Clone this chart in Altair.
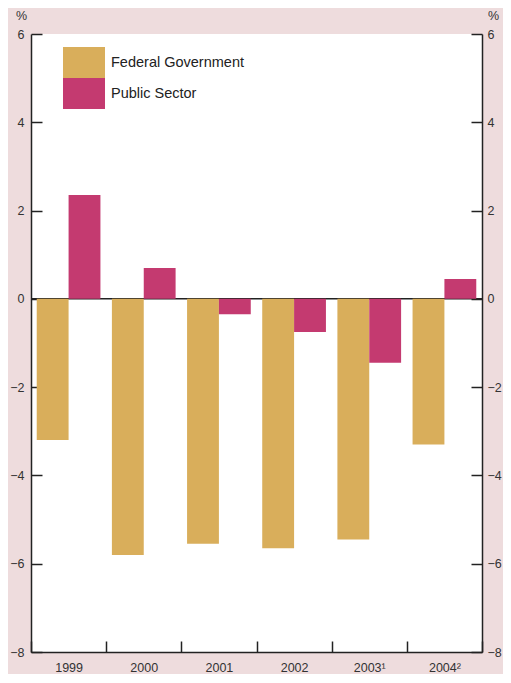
import altair as alt
import pandas as pd

years = ["1999", "2000", "2001", "2002", "2003¹", "2004²"]
series = ["Federal Government", "Public Sector"]
federal = [-3.2, -5.8, -5.55, -5.65, -5.45, -3.3]
public = [2.35, 0.7, -0.35, -0.75, -1.45, 0.45]
y_ticks = [-8, -6, -4, -2, 0, 2, 4, 6]
zero_line = [0]

rows = []
for i, yr in enumerate(years):
    rows.append({"year": yr, "series": series[0], "value": federal[i]})
    rows.append({"year": yr, "series": series[1], "value": public[i]})
df = pd.DataFrame(rows)

W, H = 451, 618
FONT = "Liberation Sans"
ink = "#222222"
txt = "#333333"
FS = 12.5

yscale = alt.Scale(domain=[-8, 6], nice=False, zero=False)

left_axis = alt.Axis(
    orient="right", offset=-W, values=y_ticks, tickSize=11, tickWidth=1.5,
    tickColor=ink, domainColor=ink, domainWidth=1.5, grid=False,
    labelPadding=-18, labelAlign="right", labelFontSize=FS, labelColor=txt,
    labelFont=FONT, title="%", titleAngle=0, titleX=-10, titleY=-19,
    titleAlign="center", titleBaseline="middle", titleFontSize=FS,
    titleFontWeight="normal", titleFont=FONT, titleColor=txt,
)
right_axis = alt.Axis(
    orient="left", offset=-W, values=y_ticks, tickSize=11, tickWidth=1.5,
    tickColor=ink, domainColor=ink, domainWidth=1.5, grid=False,
    labelPadding=-16, labelAlign="left", labelFontSize=FS, labelColor=txt,
    labelFont=FONT, title="%", titleAngle=0, titleX=11, titleY=-19,
    titleAlign="center", titleBaseline="middle", titleFontSize=FS,
    titleFontWeight="normal", titleFont=FONT, titleColor=txt,
)
x_axis = alt.Axis(
    orient="top", offset=-H, tickBand="extent", tickSize=11, tickWidth=1.5,
    tickColor=ink, domainColor=ink, domainWidth=1.5, labelAngle=0,
    labelPadding=-20, labelBaseline="top", labelFontSize=FS, labelColor=txt,
    labelFont=FONT, title=None,
)

rule = alt.Chart(pd.DataFrame({"zero": zero_line})).mark_rule(
    color=ink, strokeWidth=1.5
).encode(y=alt.Y("zero:Q", scale=yscale, axis=right_axis))

bars = alt.Chart(df).mark_bar(strokeWidth=0).encode(
    x=alt.X("year:N", sort=years, scale=alt.Scale(paddingInner=0, paddingOuter=0), axis=x_axis),
    xOffset=alt.XOffset("series:N", sort=series, scale=alt.Scale(paddingInner=0, paddingOuter=0.18)),
    y=alt.Y("value:Q", scale=yscale, axis=left_axis),
    color=alt.Color(
        "series:N", sort=series,
        scale=alt.Scale(domain=series, range=["#D9AE5B", "#C43A70"]),
        legend=alt.Legend(
            orient="none", legendX=37.5, legendY=13, title=None,
            symbolType="M-1.355,-1H1.355V1H-1.355Z", symbolSize=961,
            symbolStrokeWidth=0, symbolOpacity=1, rowPadding=0,
            labelFontSize=14.5, labelFont=FONT, labelColor=ink, labelOffset=11.5,
        ),
    ),
)

chart = alt.layer(rule, bars).resolve_scale(y="independent").properties(
    width=W, height=H, autosize="none",
    padding={"left": 23, "top": 26, "right": 21, "bottom": 22},
    background="#EEDCDD",
).configure_view(fill="white", strokeWidth=0)

chart.save("out.html", embed_options={"renderer": "svg", "actions": False})
